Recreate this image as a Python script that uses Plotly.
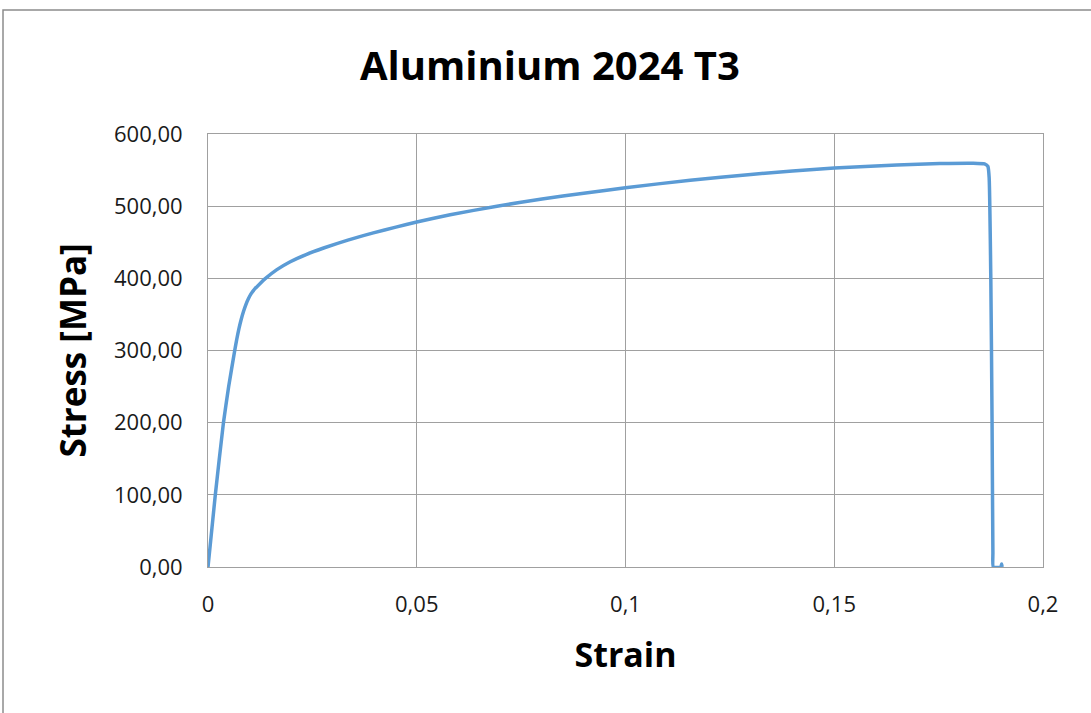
import plotly.graph_objects as go

# Tensile test curve of aluminium 2024-T3
strain = [0.0, 0.00175, 0.0037, 0.00495, 0.0064, 0.0069, 0.0074,
          0.0079, 0.0085, 0.0091, 0.0097, 0.0103, 0.0113, 0.0125, 0.0137,
          0.0165, 0.0197, 0.0235, 0.0277, 0.0335, 0.0396, 0.0450, 0.0500,
          0.0580, 0.0692, 0.0800, 0.0900, 0.1000, 0.1155, 0.1300, 0.1500,
          0.1650, 0.1753, 0.1833, 0.1860, 0.1868, 0.1871, 0.1875, 0.1878,
          0.1880, 0.1881, 0.1899, 0.1901, 0.1902]
stress = [0.0, 100.0, 200.0, 250.0, 300.0, 316.0, 330.0,
          342.0, 354.0, 364.0, 372.0, 378.5, 386.0, 393.0, 399.5,
          412.0, 423.0, 433.0, 442.0, 453.0, 463.0, 471.0, 478.0,
          488.0, 500.0, 510.0, 518.0, 525.5, 536.0, 544.0, 553.0,
          557.0, 559.0, 559.5, 558.5, 555.0, 540.0, 400.0, 200.0,
          20.0, 0.0, 0.0, 4.0, 0.0]

x_ticks = [0, 0.05, 0.1, 0.15, 0.2]
y_ticks = [0, 100, 200, 300, 400, 500, 600]

FONT = "'Open Sans', Lato, sans-serif"

fig = go.Figure()
fig.add_trace(go.Scatter(
    x=strain, y=stress, mode="lines",
    line=dict(color="#5B9BD5", width=3.5, shape="spline", smoothing=0.5),
    cliponaxis=False, showlegend=False, hoverinfo="x+y",
))

fig.update_layout(
    width=1091, height=713,
    margin=dict(l=208, r=48, t=134, b=146),
    paper_bgcolor="white", plot_bgcolor="white",
    separators=", ",
    font=dict(family=FONT, color="#000000"),
    title=dict(text="<b>Aluminium 2024 T3</b>", x=0.504, xanchor="center",
               yref="container", y=1 - 66 / 713, yanchor="middle",
               font=dict(size=40, family=FONT)),
    xaxis=dict(
        range=[0, 0.2], tickvals=x_ticks, tickformat="",
        showgrid=True, gridcolor="#A0A0A0", gridwidth=1,
        showline=True, linecolor="#A0A0A0", linewidth=1, mirror=True,
        zeroline=False, ticks="", tickfont=dict(size=22, color="#1a1a1a"),
        ticklabelstandoff=18,
        title=dict(text="<b>Strain</b>", font=dict(size=34), standoff=25),
    ),
    yaxis=dict(
        range=[0, 600], tickvals=y_ticks, tickformat=".2f",
        showgrid=True, gridcolor="#A0A0A0", gridwidth=1,
        showline=True, linecolor="#A0A0A0", linewidth=1, mirror=True,
        zeroline=False, ticks="", tickfont=dict(size=22, color="#1a1a1a"),
        ticklabelstandoff=20,
        title=dict(text="<b>Stress [MPa]</b>", font=dict(size=35), standoff=16),
    ),
)

# outer chart-area frame
fig.add_shape(type="rect", xref="paper", yref="paper",
              x0=-0.2455, x1=1.1, y0=-0.4, y1=1.2865,
              line=dict(color="#8C8C8C", width=1.5), layer="below")

fig.write_html("out.html")
